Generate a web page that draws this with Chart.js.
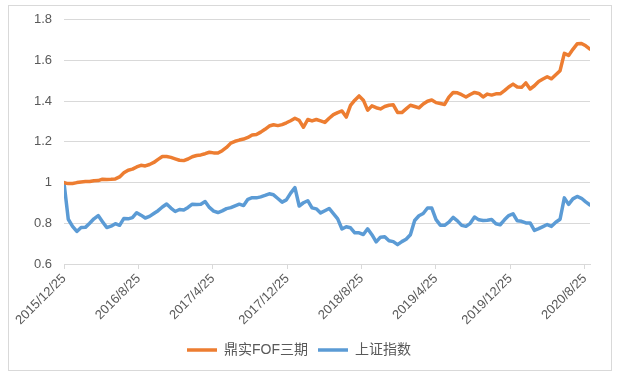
<!DOCTYPE html>
<html>
<head>
<meta charset="utf-8">
<script src="https://cdn.jsdelivr.net/npm/chart.js@4.4.1/dist/chart.umd.min.js"></script>
<style>
  html, body { margin: 0; padding: 0; background: #fff; }
  #wrap { position: relative; width: 618px; height: 377px; }
  #frame { position: absolute; left: 8px; top: 5px; width: 602px; height: 364px; border: 1px solid #d9d9d9; }
  canvas { position: absolute; left: 0; top: 0; }
</style>
</head>
<body>
<div id="wrap">
  <div id="frame"></div>
  <canvas id="line-chart" width="618" height="377"></canvas>
</div>
<script>
// biweekly samples starting 2015/12/25
const startDate = '2015/12/25';
const stepDays = 14;

const seriesNames = ['鼎实FOF三期', '上证指数'];

const fofValues = [
  1.000, 0.995, 0.996, 1.000, 1.003, 1.005, 1.005, 1.009, 1.010, 1.017,
  1.015, 1.016, 1.018, 1.028, 1.048, 1.061, 1.066, 1.077, 1.085, 1.082,
  1.089, 1.099, 1.114, 1.128, 1.128, 1.124, 1.117, 1.110, 1.108, 1.116,
  1.127, 1.133, 1.136, 1.142, 1.149, 1.146, 1.145, 1.157, 1.173, 1.194,
  1.203, 1.209, 1.214, 1.222, 1.234, 1.236, 1.248, 1.262, 1.278, 1.284,
  1.280, 1.285, 1.294, 1.304, 1.316, 1.306, 1.272, 1.310, 1.303, 1.310,
  1.303, 1.296, 1.316, 1.334, 1.344, 1.352, 1.322, 1.379, 1.405, 1.426,
  1.405, 1.356, 1.377, 1.368, 1.362, 1.374, 1.380, 1.382, 1.345, 1.344,
  1.362, 1.380, 1.374, 1.367, 1.386, 1.400, 1.406, 1.393, 1.389, 1.384,
  1.420, 1.443, 1.441, 1.432, 1.421, 1.433, 1.443, 1.438, 1.421, 1.435,
  1.430, 1.436, 1.436, 1.452, 1.470, 1.484, 1.470, 1.468, 1.490, 1.460,
  1.476, 1.497, 1.509, 1.520, 1.510, 1.530, 1.550, 1.635, 1.625, 1.655,
  1.682, 1.684, 1.672, 1.656
];

const shValues = [
  1.000, 0.820, 0.785, 0.760, 0.779, 0.780, 0.800, 0.822, 0.838, 0.808,
  0.779, 0.786, 0.798, 0.790, 0.824, 0.822, 0.828, 0.852, 0.840, 0.826,
  0.834, 0.848, 0.862, 0.880, 0.895, 0.875, 0.858, 0.868, 0.865, 0.878,
  0.894, 0.892, 0.894, 0.907, 0.878, 0.860, 0.853, 0.861, 0.872, 0.877,
  0.886, 0.894, 0.887, 0.918, 0.926, 0.925, 0.930, 0.937, 0.945, 0.940,
  0.922, 0.904, 0.915, 0.948, 0.975, 0.885, 0.901, 0.911, 0.876, 0.871,
  0.851, 0.862, 0.873, 0.848, 0.822, 0.772, 0.783, 0.778, 0.753, 0.753,
  0.745, 0.773, 0.744, 0.709, 0.732, 0.734, 0.714, 0.710, 0.695, 0.710,
  0.722, 0.744, 0.814, 0.837, 0.848, 0.875, 0.875, 0.818, 0.791, 0.790,
  0.806, 0.829, 0.812, 0.790, 0.785, 0.800, 0.831, 0.817, 0.814, 0.815,
  0.819, 0.798, 0.793, 0.817, 0.838, 0.847, 0.812, 0.810, 0.802, 0.802,
  0.765, 0.774, 0.784, 0.794, 0.785, 0.805, 0.820, 0.925, 0.893, 0.920,
  0.932, 0.923, 0.905, 0.890
];

const xTickLabels = ['2015/12/25', '2016/8/25', '2017/4/25', '2017/12/25',
                     '2018/8/25', '2019/4/25', '2019/12/25', '2020/8/25'];
const yTicks = [0.6, 0.8, 1, 1.2, 1.4, 1.6, 1.8];

function dayOffset(s) {
  const p = s.split('/').map(Number);
  const q = startDate.split('/').map(Number);
  return Math.round((Date.UTC(p[0], p[1] - 1, p[2]) - Date.UTC(q[0], q[1] - 1, q[2])) / 86400000);
}

// day index of every sample
var days = [];
for (var i = 0; i < fofValues.length; i++) days.push(i * stepDays);
const tickDays = xTickLabels.map(dayOffset);

Chart.defaults.font.family = "'Liberation Sans', 'Noto Sans CJK SC', sans-serif";
Chart.defaults.color = '#595959';

new Chart(document.getElementById('line-chart'), {
  type: 'line',
  data: {
    datasets: [{
      label: seriesNames[0],
      data: days.map((d, i) => ({ x: d, y: fofValues[i] })),
      borderColor: '#ED7D31',
      backgroundColor: '#ED7D31',
      borderWidth: 3.5,
      borderCapStyle: 'round',
      borderJoinStyle: 'round',
      pointRadius: 0,
      tension: 0
    }, {
      label: seriesNames[1],
      data: days.map((d, i) => ({ x: d, y: shValues[i] })),
      borderColor: '#5B9BD5',
      backgroundColor: '#5B9BD5',
      borderWidth: 3.5,
      borderCapStyle: 'round',
      borderJoinStyle: 'round',
      pointRadius: 0,
      tension: 0
    }]
  },
  options: {
    responsive: false,
    animation: false,
    layout: { padding: { left: 8, right: 28, top: 16, bottom: 10 } },
    scales: {
      x: {
        type: 'linear',
        min: 0,
        max: days[days.length - 1],
        afterBuildTicks: function (scale) {
          scale.ticks = tickDays.map(v => ({ value: v }));
        },
        afterFit: function (scale) { scale.height = 69; },
        ticks: {
          autoSkip: false,
          minRotation: 45,
          maxRotation: 45,
          padding: 2,
          font: { size: 13 },
          callback: function (value, index) { return xTickLabels[index]; }
        },
        grid: { drawOnChartArea: false, drawTicks: true, tickLength: 5, color: '#d9d9d9' },
        border: { display: true, color: '#d9d9d9' }
      },
      y: {
        min: 0.6,
        max: 1.8,
        afterBuildTicks: function (scale) {
          scale.ticks = yTicks.map(v => ({ value: v }));
        },
        afterFit: function (scale) { scale.width = 56; },
        ticks: {
          padding: 12,
          font: { size: 13 },
          callback: function (value) { return String(Math.round(value * 10) / 10); }
        },
        grid: { drawTicks: false, color: '#d9d9d9' },
        border: { display: false }
      }
    },
    plugins: {
      legend: {
        position: 'bottom',
        labels: {
          usePointStyle: true,
          pointStyle: 'line',
          pointStyleWidth: 30,
          padding: 10,
          font: { size: 14 },
          color: '#595959'
        }
      },
      tooltip: { enabled: false }
    }
  }
});
</script>
</body>
</html>
